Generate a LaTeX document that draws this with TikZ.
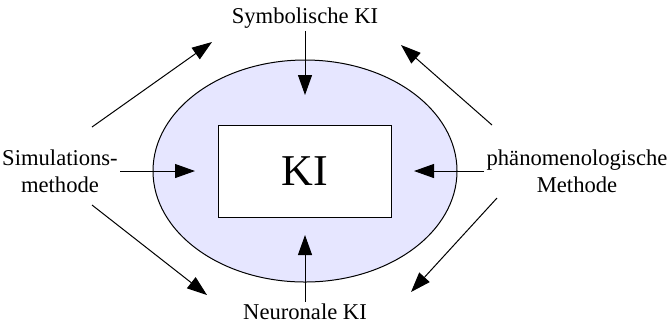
\documentclass[tikz,border=0pt]{standalone}
\usepackage{fontspec}
\setmainfont{Liberation Serif}
\usetikzlibrary{arrows.meta,shapes.geometric}
\definecolor{kiblue}{RGB}{230,230,255}

\begin{document}
\begin{tikzpicture}[x=0.5pt, y=-0.5pt, line width=0.5pt,
    >={Triangle[length=10pt,width=7pt]},
    lbl/.style={inner sep=1pt, font=\fontsize{11.3}{13.5}\selectfont}]

    \useasboundingbox (0,0) rectangle (668,329);

    % Ellipse und Kasten
    \node[ellipse, draw, fill=kiblue, minimum width=152pt, minimum height=111pt] (feld) at (305,171) {};
    \node[draw, fill=white, minimum width=86.5pt, minimum height=46pt,
          font=\fontsize{22}{26}\selectfont] (ki) at (305,171) {KI};

    % Beschriftungen
    \node[lbl] (symb) at (305,18) {Symbolische KI};
    \node[lbl] (neur) at (305,312) {Neuronale KI};
    \node[lbl, align=center] (simu) at (60,171) {Simulations-\\methode};
    \node[lbl, align=center] (phaen) at (577,171) {phänomenologische\\Methode};

    % Pfeilenden
    \coordinate (symbE) at (305,95);
    \coordinate (neurE) at (305,235);
    \coordinate (simuE) at (195,171);
    \coordinate (phaenE) at (414,171);

    \draw[->] (symb) -- (symbE);
    \draw[->] (neur) -- (neurE);
    \draw[->] (simu) -- (simuE);
    \draw[->] (phaen) -- (phaenE);

    % schraege Pfeile
    \coordinate (ulA) at (92,127);
    \coordinate (ulB) at (212,42);
    \coordinate (urA) at (492,125);
    \coordinate (urB) at (401,45);
    \coordinate (llA) at (92,205);
    \coordinate (llB) at (207,295);
    \coordinate (lrA) at (497,198);
    \coordinate (lrB) at (411,292);

    \draw[->] (ulA) -- (ulB);
    \draw[->] (urA) -- (urB);
    \draw[->] (llA) -- (llB);
    \draw[->] (lrA) -- (lrB);

\end{tikzpicture}
\end{document}
